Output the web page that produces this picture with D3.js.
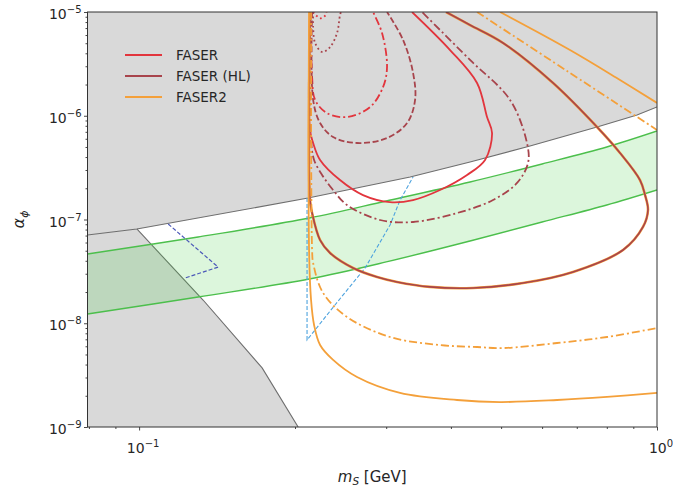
<!DOCTYPE html>
<html><head><meta charset="utf-8">
<script src="https://cdn.jsdelivr.net/npm/d3@7/dist/d3.min.js"></script>
<style>body{margin:0;background:#fff}svg{display:block;font-family:"DejaVu Sans",sans-serif}</style>
</head><body>
<svg id="c" width="673" height="486"></svg>
<script>
// ---- axis limits & ticks ----
const xDomain = [0.0795, 1];
const yDomain = [1e-9, 1e-5];
const xMajorTicks = [0.1, 1];
const xMajorExp = ["\u22121", "0"];
const yMajorTicks = [1e-9, 1e-8, 1e-7, 1e-6, 1e-5];
const yMajorExp = ["\u22129", "\u22128", "\u22127", "\u22126", "\u22125"];

// ---- excluded regions (gray) ----
const grayUpperEdge = [[0.0795,7.1e-8],[0.099,8.1e-8],[0.212,1.61e-7],[0.3337,2.57e-7],[0.4355,3.58e-7],[0.5686,5.11e-7],[0.766,7.79e-7],[0.915,1.017e-6],[1.0,1.214e-6]];
const grayLowerEdge = [[0.099,8.1e-8],[0.1329,1.675e-8],[0.1728,3.71e-9],[0.2028,1e-9]];

// ---- green band ----
const bandM     = [0.0795, 0.13, 0.213, 0.3, 0.4355, 0.6, 0.8, 1.0];
const bandUpper = [4.65e-8, 6.78e-8, 1.034e-7, 1.508e-7, 2.30e-7, 3.43e-7, 5.00e-7, 7.13e-7];
const bandLower = [1.228e-8, 1.79e-8, 2.67e-8, 3.90e-8, 6.21e-8, 9.46e-8, 1.38e-7, 1.925e-7];

// ---- blue dashed bounds ----
const blueDark  = [[0.1138,9.05e-8],[0.1421,3.48e-8],[0.1227,2.73e-8]];
const blueLight = [[0.211,1.61e-7],[0.211,6.9e-9],[0.2389,1.5e-8],[0.2731,3.41e-8],[0.3052,8.85e-8],[0.3191,1.54e-7],[0.3381,2.57e-7]];

// ---- FASER (red) ----
const faserSolid = [[0.2138,1e-5],[0.2138,7.29e-7],[0.2168,5.46e-7],[0.2236,3.75e-7],[0.2443,2.40e-7],[0.2706,1.72e-7],[0.3052,1.47e-7],[0.3381,1.54e-7],[0.3811,1.925e-7],[0.4298,2.69e-7],[0.4656,3.75e-7],[0.4803,6.82e-7],[0.4697,9.72e-7],[0.4493,2.07e-6],[0.3985,4.30e-6],[0.3365,1e-5]];
const faserDashDot = [[0.2148,1e-5],[0.2158,2.36e-6],[0.2187,1.42e-6],[0.2307,1.06e-6],[0.252,9.72e-7],[0.2791,1.21e-6],[0.2958,1.89e-6],[0.3011,2.95e-6],[0.2945,6.27e-6],[0.2829,1e-5]];
const faserDotted = [[0.2168,1e-5],[0.2200,9.2e-6],[0.2245,8.7e-6],[0.2290,9.3e-6],[0.2300,1e-5]];

// ---- FASER (HL) (brown) ----
const hlSolid = [[0.2138,1e-5],[0.2138,1.54e-7],[0.2158,1.155e-7],[0.2236,6.34e-8],[0.2338,4.75e-8],[0.2589,3.41e-8],[0.2881,2.79e-8],[0.3148,2.50e-8],[0.3645,2.24e-8],[0.4414,2.19e-8],[0.5512,2.44e-8],[0.6884,3.12e-8],[0.8598,5.08e-8],[0.9397,8.47e-8],[0.9607,1.235e-7],[0.9483,1.72e-7],[0.9273,2.40e-7],[0.8484,4.38e-7],[0.766,7.79e-7],[0.6299,2.07e-6],[0.5044,5.03e-6],[0.4355,7.49e-6],[0.3914,1e-5]];
const hlDashDot = [[0.2148,1e-5],[0.2148,5.84e-7],[0.2177,3.75e-7],[0.2256,2.69e-7],[0.2369,1.925e-7],[0.252,1.38e-7],[0.2919,9.89e-8],[0.3381,9.46e-8],[0.4111,1.155e-7],[0.4824,1.54e-7],[0.5367,2.25e-7],[0.5636,3.50e-7],[0.561,5.46e-7],[0.5203,1.42e-6],[0.4355,3.45e-6],[0.3518,1e-5]];
const hlDashed = [[0.2158,1e-5],[0.2168,1.42e-6],[0.2236,8.51e-7],[0.2369,6.24e-7],[0.2635,5.46e-7],[0.3011,6.10e-7],[0.3292,8.51e-7],[0.3411,1.42e-6],[0.3381,2.58e-6],[0.3234,5.37e-6],[0.3011,1e-5]];
const hlDotted = [[0.2168,1e-5],[0.2168,7.17e-6],[0.2187,5.03e-6],[0.2256,4.12e-6],[0.2338,4.60e-6],[0.2411,6.27e-6],[0.2443,9.36e-6],[0.2453,1e-5]];

// ---- FASER2 (orange) ----
const f2SolidLow = [[0.2129,1e-5],[0.2129,5.08e-8],[0.2148,1.675e-8],[0.2177,9.62e-9],[0.2236,6.17e-9],[0.2369,4.43e-9],[0.2635,3.03e-9],[0.319,2.13e-9],[0.4111,1.82e-9],[0.4977,1.74e-9],[0.6412,1.82e-9],[0.8007,1.95e-9],[1.0,2.13e-9]];
const f2SolidUp = [[0.4977,1e-5],[0.6792,4.30e-6],[0.8484,2.21e-6],[1.0,1.33e-6]];
const f2DashDotLow = [[0.2148,1e-5],[0.2158,5.08e-8],[0.2168,3.81e-8],[0.2266,1.96e-8],[0.252,1.15e-8],[0.3052,7.37e-9],[0.3811,6.17e-9],[0.4493,5.90e-9],[0.5044,5.77e-9],[0.6412,6.45e-9],[0.8007,7.37e-9],[1.0,9.0e-9]];
const f2DashDotUp = [[0.4493,1e-5],[0.6705,2.70e-6],[1.0,7.29e-7]];
const f2Dashed = hlSolid; // FASER2 dashed coincides with FASER (HL) solid

const legendLabels = ["FASER", "FASER (HL)", "FASER2"];
const RED = "#e2353d", BROWN = "#a8444c", ORANGE = "#f4a03a";
const legendColors = [RED, BROWN, ORANGE];

// ---- drawing ----
const svg = d3.select("#c");
const L = 87.5, R = 657, T = 12, B = 427;
const x = d3.scaleLog().domain(xDomain).range([L, R]);
const y = d3.scaleLog().domain(yDomain).range([B, T]);

svg.append("defs").append("clipPath").attr("id","clip")
  .append("rect").attr("x",L).attr("y",T).attr("width",R-L).attr("height",B-T);
const g = svg.append("g").attr("clip-path","url(#clip)");

const lin = d3.line().x(d=>x(d[0])).y(d=>y(d[1]));
const smooth = d3.line().x(d=>x(d[0])).y(d=>y(d[1])).curve(d3.curveCatmullRom.alpha(0.5));

g.append("rect").attr("x",L).attr("y",T).attr("width",R-L).attr("height",B-T).attr("fill","#fff");

const GRAY = "#d9d9d9";
const upPoly = [[xDomain[0], yDomain[1]], ...grayUpperEdge, [xDomain[1], yDomain[1]]];
g.append("path").attr("d", lin(upPoly)+"Z").attr("fill",GRAY);
const lowPoly = [[xDomain[0], grayUpperEdge[0][1]], ...grayLowerEdge, [xDomain[0], yDomain[0]]];
g.append("path").attr("d", lin(lowPoly)+"Z").attr("fill",GRAY);
g.append("path").attr("d", lin(grayUpperEdge)).attr("fill","none").attr("stroke","#6e6e6e").attr("stroke-width",1.1);
g.append("path").attr("d", lin(grayLowerEdge)).attr("fill","none").attr("stroke","#6e6e6e").attr("stroke-width",1.1);

// green band
const bandU = bandM.map((m,i)=>[m,bandUpper[i]]);
const bandLw = bandM.map((m,i)=>[m,bandLower[i]]);
const area = d3.area().x(d=>x(d[0])).y0((d,i)=>y(bandLower[i])).y1(d=>y(d[1])).curve(d3.curveCatmullRom.alpha(0.5));
g.append("path").attr("d", area(bandU)).attr("fill","#3ccc3c").attr("fill-opacity",0.18);
g.append("path").attr("d", smooth(bandU)).attr("fill","none").attr("stroke","#4cbf4c").attr("stroke-width",1.4);
g.append("path").attr("d", smooth(bandLw)).attr("fill","none").attr("stroke","#4cbf4c").attr("stroke-width",1.4);

// blue dashed
g.append("path").attr("d", lin(blueDark)).attr("fill","none").attr("stroke","#4b58b8").attr("stroke-width",1.2).attr("stroke-dasharray","4,2");
g.append("path").attr("d", lin(blueLight)).attr("fill","none").attr("stroke","#4ea3de").attr("stroke-width",1.1).attr("stroke-dasharray","4,2");

const DASH = "6,2.6", DASHDOT = "8,3,2,3", DOT = "1.8,2.8";
function curve(data, color, dash, w){
  const p = g.append("path").attr("d", smooth(data)).attr("fill","none")
    .attr("stroke",color).attr("stroke-width",w||1.8).attr("stroke-linejoin","round");
  if (dash) p.attr("stroke-dasharray", dash);
}
curve(faserSolid, RED, null);
curve(faserDashDot, RED, DASHDOT);
curve(faserDotted, RED, DOT);
curve(f2Dashed, ORANGE, null, 2.6);
curve(hlSolid, BROWN, null, 1.6);
curve(hlDashDot, BROWN, DASHDOT);
curve(hlDashed, BROWN, DASH);
curve(hlDotted, BROWN, DOT);
curve(f2DashDotLow, ORANGE, DASHDOT);
curve(f2DashDotUp, ORANGE, DASHDOT);
curve(f2SolidLow, ORANGE, null);
curve(f2SolidUp, ORANGE, null);

svg.append("rect").attr("x",L).attr("y",T).attr("width",R-L).attr("height",B-T)
  .attr("fill","none").attr("stroke","#333").attr("stroke-width",1);

function minorTicks(domain){
  const out=[];
  for(let e=-10;e<=1;e++) for(let k=2;k<=9;k++){const v=k*Math.pow(10,e); if(v>=domain[0]*0.999&&v<=domain[1]*1.001) out.push(v);}
  return out;
}
svg.append("g").attr("transform",`translate(0,${B})`)
  .call(d3.axisBottom(x).tickValues(minorTicks(xDomain)).tickSize(2).tickFormat(""));
svg.append("g").attr("transform",`translate(0,${B})`)
  .call(d3.axisBottom(x).tickValues(xMajorTicks).tickSize(3.5).tickFormat(""));
svg.append("g").attr("transform",`translate(${L},0)`)
  .call(d3.axisLeft(y).tickValues(minorTicks(yDomain)).tickSize(2).tickFormat(""));
svg.append("g").attr("transform",`translate(${L},0)`)
  .call(d3.axisLeft(y).tickValues(yMajorTicks).tickSize(3.5).tickFormat(""));
svg.selectAll(".domain").remove();
svg.selectAll(".tick line").attr("stroke","#333").attr("stroke-width",0.9);

function powLabel(sel, xx, yy, exp, anchor){
  const t = sel.append("text").attr("x",xx).attr("y",yy).attr("text-anchor",anchor)
    .attr("font-size",14).attr("fill","#262626");
  t.append("tspan").text("10");
  t.append("tspan").attr("dy",-6).attr("font-size",10).text(exp);
}
xMajorTicks.forEach((v,i)=>powLabel(svg, x(v)+4, B+26, xMajorExp[i], "middle"));
yMajorTicks.forEach((v,i)=>powLabel(svg, L-6, y(v)+7, yMajorExp[i], "end"));

const xt = svg.append("text").attr("x",(L+R)/2).attr("y",482).attr("text-anchor","middle").attr("font-size",15).attr("fill","#262626");
xt.append("tspan").attr("font-style","italic").text("m");
xt.append("tspan").attr("font-size",10.5).attr("dy",3).attr("font-style","italic").text("S");
xt.append("tspan").attr("dy",-3).text(" [GeV]");
const yt = svg.append("text").attr("transform",`translate(24,${(T+B)/2}) rotate(-90)`).attr("text-anchor","middle").attr("font-size",16).attr("fill","#262626");
yt.append("tspan").attr("font-style","italic").text("\u03b1");
yt.append("tspan").attr("font-size",11).attr("dy",3.5).attr("font-style","italic").text("\u03d5");

legendLabels.forEach((lab,i)=>{
  const ly = 55 + i*21;
  svg.append("line").attr("x1",125).attr("x2",162).attr("y1",ly).attr("y2",ly).attr("stroke",legendColors[i]).attr("stroke-width",2);
  svg.append("text").attr("x",176).attr("y",ly+5).attr("font-size",13.5).attr("fill","#262626").text(lab);
});
</script>
</body></html>
